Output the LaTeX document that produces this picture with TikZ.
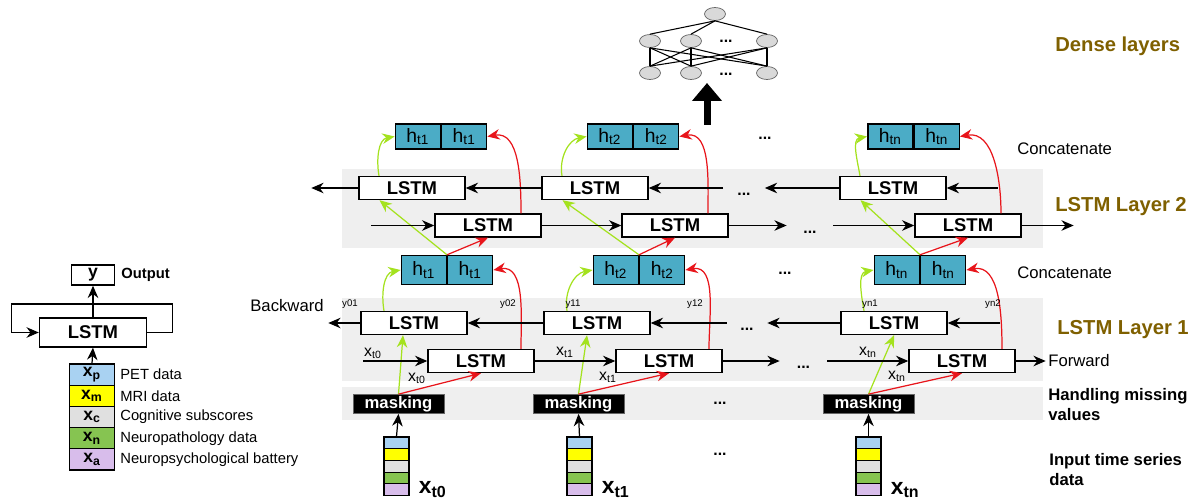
\documentclass[tikz,border=0pt]{standalone}
\usepackage{fontspec}
\setmainfont{Liberation Sans}
\usetikzlibrary{positioning}
\usetikzlibrary{arrows.meta,shapes.geometric}

\definecolor{petblue}{HTML}{A9D2F2}
\definecolor{mriyellow}{HTML}{FFFF00}
\definecolor{cogrey}{HTML}{E0E0E0}
\definecolor{npgreen}{HTML}{86C451}
\definecolor{batlilac}{HTML}{D8BDEB}
\definecolor{hcell}{HTML}{4BACC6}
\definecolor{bwgreen}{HTML}{A4E21E}
\definecolor{fwred}{HTML}{E8151B}
\definecolor{layertext}{HTML}{7F6000}
\definecolor{band}{HTML}{EFEFEF}

\newcommand{\setfs}[1]{\fontsize{#1}{#1}\selectfont}

\tikzset{
  lstm/.style={draw, thick, fill=white, minimum width=2.12cm, minimum height=0.46cm,
    inner sep=0pt, font=\setfs{10.5}\bfseries},
  hpart/.style={draw, thick, fill=hcell, minimum width=0.9cm, inner sep=0pt, font=\setfs{11}},
  maskbox/.style={fill=black, draw=black!60, text=white, minimum width=1.82cm,
    minimum height=0.38cm, inner sep=0pt, font=\setfs{9.5}\bfseries},
  cell/.style={draw, semithick, minimum width=0.5cm, minimum height=0.234cm, inner sep=0pt},
  flow/.style={line width=0.7pt, -{Stealth[length=7pt,width=6pt]}},
  bw/.style={flow, bwgreen},
  fw/.style={flow, fwred},
  gap/.style={font=\setfs{9}\bfseries, inner sep=0pt, text height=1.7ex, text depth=0pt},
  dots/.style={font=\setfs{9}\bfseries, inner sep=0pt},
  neuron/.style={ellipse, draw=black!60, fill=black!15, minimum width=0.42cm,
    minimum height=0.26cm, inner sep=0pt},
  layername/.style={anchor=west, inner sep=0pt, font=\setfs{11.5}\bfseries, text=layertext},
  note/.style={anchor=west, inner sep=0pt, font=\setfs{9.5}},
  small/.style={inner sep=0pt, font=\setfs{5.5}},
  xlab/.style={inner sep=0pt, font=\setfs{9}}
}

\begin{document}
\begin{tikzpicture}[x=0.02cm, y=-0.02cm]
\useasboundingbox (0,0) rectangle (1200,500);

% grey bands behind the two LSTM layers and the masking row
\fill[band] (342,169) rectangle (1043,248);
\fill[band] (342,298) rectangle (1043,381);
\fill[band] (342,387) rectangle (1043,420);

% dense layers
\node[neuron] (top) at (715,14) {};
\node[neuron] (d1) at (650,41) {};
\node[neuron] (d2) at (691,41) {};
\node[neuron] (d3) at (767,41) {};
\node[neuron] (e1) at (650,73) {};
\node[neuron] (e2) at (691,73) {};
\node[neuron] (e3) at (767,73) {};
\node[dots] (dd) at (726,41) {...};
\node[dots] (de) at (726,74) {...};
\foreach \a in {1,2,3}{
  \draw[semithick] (top.south) -- (d\a.north);
  \foreach \b in {1,2,3}
    \draw[semithick] (d\a.south) -- (e\b.north);
}
\coordinate (upbase) at (707,125);
\coordinate (uptip) at (707,83);
\draw[line width=0.14cm, -{Triangle[length=0.36cm,width=0.58cm]}] (upbase) -- (uptip);

% the three time steps
\foreach \nc/\xs/\xm/\g/\xbA/\xfA/\xhA/\xbB/\xfB/\xhB/\ti/\hi in {
    1/396.5/398.5/-0.22/414/481/447/412/488/441/t0/t1,
    2/579.5/578.5/-0.2/597/669/639/595/675/633/t1/t2,
    3/868.5/868.5/0/894/962/920/893/968/913.5/tn/tn}{
  % input vector
  \foreach \row/\fillc in {1/petblue,2/mriyellow,3/cogrey,4/npgreen,5/batlilac}
    \node[cell, fill=\fillc] (s\nc-\row) at (\xs,{442.85+11.7*(\row-1)}) {};
  \node[inner sep=0pt, font=\setfs{13}\bfseries, right=0.18cm of s\nc-5]
    (xin\nc) {x\textsubscript{\ti}};
  \node[maskbox] (m\nc) at (\xm,404) {masking};
  % layer 1
  \node[lstm] (bA\nc) at (\xbA,323) {LSTM};
  \node[lstm] (fA\nc) at (\xfA,361) {LSTM};
  \node[hpart, minimum height=0.58cm, anchor=east] (hAl\nc) at (\xhA,270) {h\textsubscript{\hi}};
  \node[hpart, minimum height=0.58cm, anchor=west] (hAr\nc) at (\xhA,270) {h\textsubscript{\hi}};
  % layer 2
  \node[lstm] (bB\nc) at (\xbB,188) {LSTM};
  \node[lstm] (fB\nc) at (\xfB,225.5) {LSTM};
  \node[hpart, minimum height=0.5cm, anchor=east] (hBl\nc) at (\xhB,136.5) {h\textsubscript{\hi}};
  \node[hpart, minimum height=0.5cm, anchor=west] (hBr\nc) at (\xhB,136.5) {h\textsubscript{\hi}};
  % connections
  \draw[flow] (s\nc-1.north) -- (m\nc.south);
  \draw[bw] (m\nc.north) -- ([xshift=\g cm]bA\nc.south);
  \draw[fw] (m\nc.north) -- (fA\nc.south);
  \draw[bw] ([xshift=-0.6cm]bA\nc.north) to[out=100,in=190] (hAl\nc.west);
  \draw[fw] ([xshift=0.8cm]fA\nc.north) to[out=90,in=10] (hAr\nc.east);
  \draw[bw] (hAl\nc.north east) -- ([xshift=-0.65cm]bB\nc.south);
  \draw[fw] (hAl\nc.north east) -- (fB\nc.south);
  \draw[bw] ([xshift=-0.66cm]bB\nc.north) to[out=100,in=190] (hBl\nc.west);
  \draw[fw] ([xshift=0.66cm]fB\nc.north) to[out=90,in=10] (hBr\nc.east);
}

% layer 1, backward direction
\node[gap, minimum width=0.8cm] (gA) at (747,323) {...};
\draw[flow] (bA1.west) -- ++(-32,0);
\draw[flow] (bA2.west) -- (bA1.east);
\draw[flow] (gA.west) -- (bA2.east);
\draw[flow] (bA3.west) -- (gA.east);
\draw[flow] ([xshift=1.05cm]bA3.east) -- (bA3.east);
% layer 1, forward direction
\node[gap, minimum width=0.94cm] (gB) at (803.5,361) {...};
\draw[flow] ([xshift=-1.28cm]fA1.west) -- (fA1.west);
\draw[flow] (fA1.east) -- (fA2.west);
\draw[flow] (fA2.east) -- (gB.west);
\draw[flow] (gB.east) -- (fA3.west);
\draw[flow] (fA3.east) -- ++(30,0);

% layer 2, backward direction
\node[gap, minimum width=0.82cm] (gC) at (744,188) {...};
\draw[flow] (bB1.west) -- ++(-47,0);
\draw[flow] (bB2.west) -- (bB1.east);
\draw[flow] (gC.west) -- (bB2.east);
\draw[flow] (bB3.west) -- (gC.east);
\draw[flow] ([xshift=1.02cm]bB3.east) -- (bB3.east);
% layer 2, forward direction
\node[gap, minimum width=0.92cm] (gD) at (810,225.5) {...};
\draw[flow] ([xshift=-1.26cm]fB1.west) -- (fB1.west);
\draw[flow] (fB1.east) -- (fB2.west);
\draw[flow] (fB2.east) -- (gD.west);
\draw[flow] (gD.east) -- (fB3.west);
\draw[flow] (fB3.east) -- ++(52,0);

% dots between time steps
\node[dots] (gE) at (765,138) {...};
\node[dots] (gF) at (785,273) {...};
\node[dots] (gG) at (720,403) {...};
\node[dots] (gH) at (720,454) {...};

% outputs of layer 1
\node[small] (ya1) at (350,304) {y01};
\node[small] (yb1) at (508,304) {y02};
\node[small] (ya2) at (573,304) {y11};
\node[small] (yb2) at (695,304) {y12};
\node[small] (ya3) at (870,304) {yn1};
\node[small] (yb3) at (993,304) {yn2};

% inputs of layer 1
\node[xlab] (xa1) at (373,353) {x\textsubscript{t0}};
\node[xlab] (xa2) at (565,352) {x\textsubscript{t1}};
\node[xlab] (xa3) at (868,352) {x\textsubscript{tn}};
\node[xlab] (xb1) at (417,378) {x\textsubscript{t0}};
\node[xlab] (xb2) at (608,377) {x\textsubscript{t1}};
\node[xlab] (xb3) at (897,376) {x\textsubscript{tn}};

% side labels
\node[note] (bwd) at (250,306) {Backward};
\node[note] (fwd) at (1048,361) {Forward};
\node[note] (cc2) at (1017,149) {Concatenate};
\node[note] (cc1) at (1017,273) {Concatenate};
\node[layername] (lyD) at (1055,46) {Dense layers};
\node[layername] (ly2) at (1055,207) {LSTM Layer 2};
\node[layername] (ly1) at (1057,330) {LSTM Layer 1};
\node[anchor=north west, inner sep=0pt, align=left, font=\fontsize{9.5}{11.4}\selectfont\bfseries]
  (hmv) at (1048,388) {Handling missing\\values};
\node[anchor=north west, inner sep=0pt, align=left, font=\fontsize{9.5}{11.4}\selectfont\bfseries]
  (its) at (1049,453) {Input time series\\data};

% single LSTM cell with its inputs
\node[lstm, minimum width=2.14cm, minimum height=0.58cm] (lstmL) at (93,332.5) {LSTM};
\node[draw, thick, minimum width=0.86cm, minimum height=0.4cm, inner sep=0pt,
  font=\setfs{10}\bfseries] (yOut) at (93,275) {y};
\node[anchor=west, inner sep=0pt, font=\setfs{8.4}\bfseries] (outL) at (121,275) {Output};
\foreach \row/\fillc/\subs/\txt in {1/petblue/p/PET data, 2/mriyellow/m/MRI data,
    3/cogrey/c/Cognitive subscores, 4/npgreen/n/Neuropathology data,
    5/batlilac/a/Neuropsychological battery}{
  \node[cell, minimum width=0.9cm, minimum height=0.424cm, fill=\fillc, font=\setfs{10}\bfseries]
    (L\row) at (92,{353.4+21.2*\row}) {x\textsubscript{\subs}};
  \node[anchor=west, inner sep=0pt, font=\setfs{8.4}] (Lt\row) at (120,{353.4+21.2*\row}) {\txt};
}
\draw[flow] (L1.north) -- (lstmL.south);
\draw[flow] (lstmL.north) -- (yOut.south);
\draw[flow] (lstmL.east) -- ++(25,0) -- ++(0,-28.5) -- ++(-161,0) -- ++(0,28.5) -- (lstmL.west);
\end{tikzpicture}
\end{document}
